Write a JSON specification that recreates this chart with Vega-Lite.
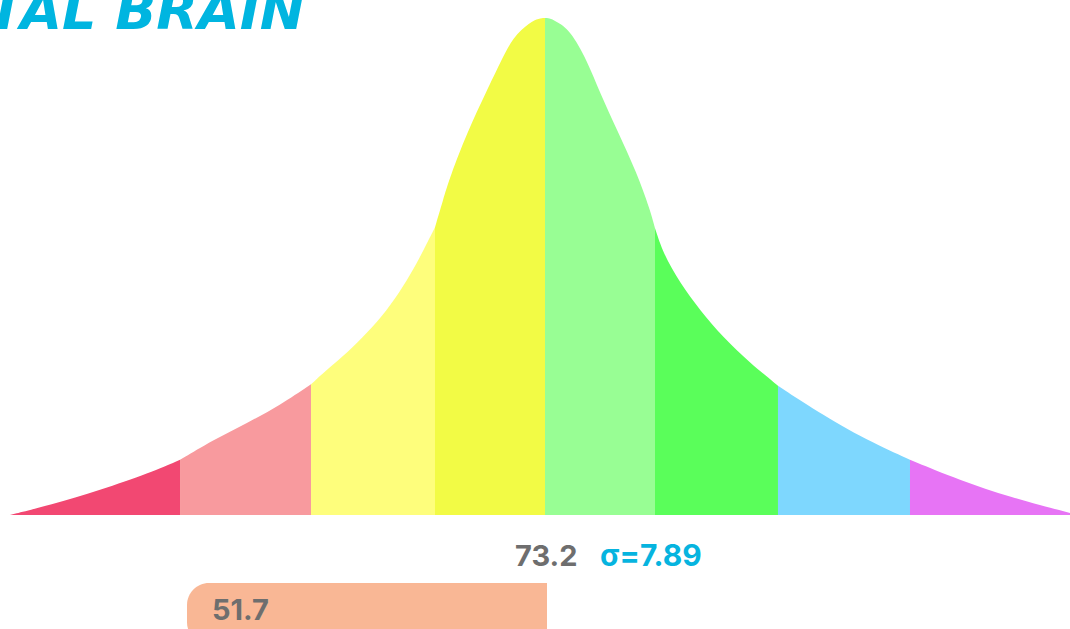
{
  "$schema": "https://vega.github.io/schema/vega-lite/v6.json",
  "width": 1070,
  "height": 629,
  "padding": 0,
  "autosize": {"type": "none"},
  "background": "white",
  "config": {"view": {"stroke": null}},
  "datasets": {
    "curve": [
      {"band": "b1", "z": -4.864, "d": 0.0},
      {"band": "b1", "z": -4.5, "d": 0.02},
      {"band": "b1", "z": -4.045, "d": 0.05},
      {"band": "b1", "z": -3.591, "d": 0.085},
      {"band": "b1", "z": -3.318, "d": 0.111},
      {"band": "b2", "z": -3.318, "d": 0.111},
      {"band": "b2", "z": -3.018, "d": 0.151},
      {"band": "b2", "z": -2.709, "d": 0.185},
      {"band": "b2", "z": -2.409, "d": 0.221},
      {"band": "b2", "z": -2.127, "d": 0.263},
      {"band": "b3", "z": -2.127, "d": 0.263},
      {"band": "b3", "z": -1.955, "d": 0.298},
      {"band": "b3", "z": -1.8, "d": 0.326},
      {"band": "b3", "z": -1.618, "d": 0.366},
      {"band": "b3", "z": -1.436, "d": 0.412},
      {"band": "b3", "z": -1.291, "d": 0.459},
      {"band": "b3", "z": -1.164, "d": 0.507},
      {"band": "b3", "z": -1.073, "d": 0.547},
      {"band": "b3", "z": -1.0, "d": 0.579},
      {"band": "b4", "z": -1.0, "d": 0.579},
      {"band": "b4", "z": -0.927, "d": 0.634},
      {"band": "b4", "z": -0.864, "d": 0.68},
      {"band": "b4", "z": -0.709, "d": 0.769},
      {"band": "b4", "z": -0.527, "d": 0.855},
      {"band": "b4", "z": -0.409, "d": 0.909},
      {"band": "b4", "z": -0.291, "d": 0.962},
      {"band": "b4", "z": -0.136, "d": 0.992},
      {"band": "b4", "z": -0.055, "d": 0.999},
      {"band": "b4", "z": 0.0, "d": 1.0},
      {"band": "b5", "z": 0.0, "d": 1.0},
      {"band": "b5", "z": 0.055, "d": 0.999},
      {"band": "b5", "z": 0.109, "d": 0.992},
      {"band": "b5", "z": 0.227, "d": 0.976},
      {"band": "b5", "z": 0.382, "d": 0.915},
      {"band": "b5", "z": 0.5, "d": 0.849},
      {"band": "b5", "z": 0.655, "d": 0.775},
      {"band": "b5", "z": 0.836, "d": 0.688},
      {"band": "b5", "z": 0.955, "d": 0.614},
      {"band": "b5", "z": 1.0, "d": 0.577},
      {"band": "b6", "z": 1.0, "d": 0.577},
      {"band": "b6", "z": 1.073, "d": 0.527},
      {"band": "b6", "z": 1.227, "d": 0.467},
      {"band": "b6", "z": 1.409, "d": 0.412},
      {"band": "b6", "z": 1.618, "d": 0.358},
      {"band": "b6", "z": 1.864, "d": 0.306},
      {"band": "b6", "z": 2.118, "d": 0.26},
      {"band": "b7", "z": 2.118, "d": 0.26},
      {"band": "b7", "z": 2.409, "d": 0.217},
      {"band": "b7", "z": 2.864, "d": 0.157},
      {"band": "b7", "z": 3.318, "d": 0.111},
      {"band": "b8", "z": 3.318, "d": 0.111},
      {"band": "b8", "z": 3.773, "d": 0.07},
      {"band": "b8", "z": 4.227, "d": 0.036},
      {"band": "b8", "z": 4.773, "d": 0.004}
    ]
  },
  "layer": [
    {
      "data": {"name": "curve"},
      "mark": {"type": "area", "interpolate": "basis"},
      "encoding": {
        "x": {"field": "z", "type": "quantitative", "axis": null, "scale": {"domain": [-4.9545, 4.7727], "nice": false, "zero": false}},
        "y": {"field": "d", "type": "quantitative", "axis": null, "stack": null, "scale": {"domain": [-0.22938, 1.03622], "nice": false, "zero": false}},
        "color": {"field": "band", "type": "nominal", "legend": null, "scale": {"domain": ["b1","b2","b3","b4","b5","b6","b7","b8"], "range": ["#F24872","#F89A9E","#FEFE7C","#F2FB45","#98FE94","#5AFE5A","#7ED7FE","#E774F5"]}}
      }
    },
    {
      "data": {"values": [{"z1": -3.2545, "z2": 0.0182, "d1": -0.1368, "d2": -0.26, "value": "51.7"}]},
      "mark": {"type": "rect", "color": "#F9B795", "cornerRadiusTopLeft": 22, "cornerRadiusBottomLeft": 22},
      "encoding": {
        "x": {"field": "z1", "type": "quantitative"},
        "x2": {"field": "z2"},
        "y": {"field": "d1", "type": "quantitative"},
        "y2": {"field": "d2"}
      }
    },
    {
      "data": {"values": [
        {"z": -3.027, "d": -0.2113, "label": "51.7"},
        {"z": -0.2727, "d": -0.1026, "label": "73.2"}
      ]},
      "mark": {"type": "text", "align": "left", "baseline": "alphabetic", "font": "Inter", "fontWeight": "bold", "fontSize": 29, "color": "#6E6E6E"},
      "encoding": {
        "x": {"field": "z", "type": "quantitative"},
        "y": {"field": "d", "type": "quantitative"},
        "text": {"field": "label"}
      }
    },
    {
      "data": {"values": [
        {"z": 0.5, "d": -0.1026, "label": "σ=7.89"}
      ]},
      "mark": {"type": "text", "align": "left", "baseline": "alphabetic", "font": "Inter", "fontWeight": "bold", "fontSize": 30, "color": "#06B4DF"},
      "encoding": {
        "x": {"field": "z", "type": "quantitative"},
        "y": {"field": "d", "type": "quantitative"},
        "text": {"field": "label"}
      }
    },
    {
      "data": {"values": [{"z": -2.1818, "d": 0.978, "label": "DIGITAL BRAIN"}]},
      "mark": {"type": "text", "align": "right", "baseline": "alphabetic", "font": "DejaVu Sans", "fontWeight": "bold", "fontStyle": "italic", "fontSize": 54, "color": "#00B5E0"},
      "encoding": {
        "x": {"field": "z", "type": "quantitative"},
        "y": {"field": "d", "type": "quantitative"},
        "text": {"field": "label"}
      }
    }
  ]
}
